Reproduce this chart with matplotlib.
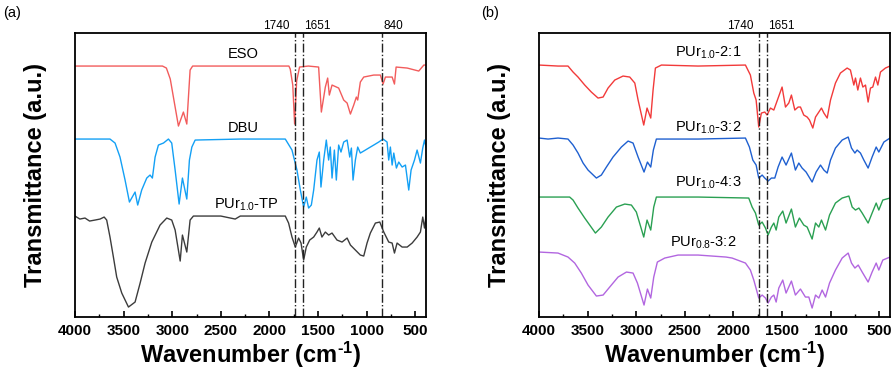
import matplotlib
matplotlib.use("Agg")
import matplotlib.pyplot as plt
from matplotlib.ticker import MultipleLocator

plt.rcParams['font.family'] = ['Liberation Sans', 'DejaVu Sans']
plt.rcParams['mathtext.fontset'] = 'custom'
plt.rcParams['mathtext.rm'] = 'Liberation Sans'
plt.rcParams['mathtext.it'] = 'Liberation Sans:italic'
plt.rcParams['mathtext.bf'] = 'Liberation Sans:bold'

# ---------------- panel (a) spectra ----------------
eso_wn = [4000, 3500, 3100, 3060, 3020, 2970, 2936, 2885, 2850, 2816, 2790, 2300, 1800,
          1786, 1760, 1741, 1720, 1690, 1600, 1494, 1466, 1425, 1401, 1384, 1356, 1288,
          1236, 1201, 1167, 1133, 1106, 1092, 1065, 1030, 927, 859, 831, 807, 738, 714,
          697, 583, 464, 412, 390]
eso_t = [251, 251, 251, 249, 238, 210, 191, 205, 193, 247, 251, 251, 251,
         248, 232, 193, 236, 250, 251, 250, 205, 230, 239, 222, 232, 229,
         217, 214, 203, 212, 220, 217, 235, 240, 242, 242, 233, 240, 240, 233,
         250, 249, 246, 252, 252]

dbu_wn = [4000, 3800, 3640, 3588, 3537, 3485, 3440, 3382, 3355, 3314, 3262, 3228, 3204,
          3176, 3142, 3090, 3039, 3005, 2970, 2929, 2895, 2850, 2823, 2798, 2764, 2300,
          1837, 1768, 1717, 1682, 1648, 1621, 1597, 1569, 1545, 1511, 1487, 1470, 1442,
          1415, 1391, 1374, 1356, 1332, 1312, 1288, 1264, 1236, 1201, 1174, 1157, 1140,
          1116, 1092, 1065, 1013, 979, 927, 876, 831, 790, 773, 756, 738, 721, 694, 670,
          635, 601, 567, 543, 508, 481, 447, 423, 405, 390]
dbu_t = [178, 178, 178, 174, 160, 137, 115, 125, 112, 127, 139, 142, 139,
         160, 172, 174, 178, 174, 147, 113, 139, 118, 157, 170, 177, 178,
         178, 167, 147, 127, 110, 120, 109, 112, 127, 157, 165, 130, 157,
         177, 157, 170, 139, 167, 137, 172, 165, 175, 177, 160, 169, 137,
         157, 170, 164, 167, 169, 172, 175, 178, 175, 157, 170, 152, 164, 149, 155,
         150, 152, 127, 147, 157, 167, 154, 169, 177, 170]

tp_wn = [4000, 3950, 3897, 3850, 3794, 3742, 3700, 3674, 3640, 3605, 3571, 3519, 3450,
         3382, 3330, 3279, 3210, 3125, 3056, 3005, 2970, 2918, 2895, 2850, 2816, 2782,
         2500, 2352, 2300, 1837, 1803, 1768, 1734, 1700, 1675, 1648, 1621, 1586, 1545,
         1511, 1487, 1460, 1425, 1391, 1356, 1305, 1253, 1201, 1167, 1116, 1065, 1030,
         996, 962, 910, 865, 824, 773, 738, 714, 687, 635, 583, 532, 481, 447, 423,
         405, 390]
tp_t = [101, 98, 99, 96, 97, 98, 100, 97, 80, 60, 40, 24, 10,
        15, 34, 54, 75, 92, 99, 97, 87, 56, 82, 65, 97, 101,
        101, 98, 101, 101, 94, 80, 70, 79, 74, 57, 70, 77, 80,
        85, 89, 80, 85, 82, 84, 77, 75, 79, 72, 67, 62, 61,
        74, 84, 94, 95, 85, 75, 74, 64, 74, 70, 70, 74, 80, 85, 100,
        89, 101]

# ---------------- panel (b) spectra ----------------
r21_wn = [4000, 3805, 3702, 3650, 3599, 3530, 3462, 3393, 3341, 3290, 3221, 3136, 3067,
          3015, 2981, 2923, 2889, 2851, 2827, 2803, 2741, 2364, 1877, 1826, 1791, 1767,
          1740, 1713, 1678, 1654, 1620, 1585, 1500, 1465, 1431, 1404, 1369, 1335, 1311,
          1277, 1242, 1218, 1184, 1156, 1122, 1095, 1070, 1036, 1002, 951, 900, 831,
          797, 762, 745, 721, 694, 669, 642, 615, 591, 567, 539, 515, 488, 437, 390]
r21_t = [252, 251, 251, 245, 240, 232, 225, 219, 220, 229, 237, 241, 240,
         234, 217, 192, 209, 199, 227, 249, 252, 251, 252, 242, 224, 217,
         190, 204, 205, 202, 209, 207, 230, 210, 214, 222, 207, 210, 210,
         202, 200, 197, 189, 200, 205, 209, 204, 199, 217, 234, 244, 249,
         247, 232, 239, 227, 239, 230, 232, 215, 229, 230, 240, 232, 245, 249, 251]

b32_wn = [4000, 3907, 3805, 3702, 3650, 3599, 3547, 3496, 3410, 3359, 3307, 3239, 3153,
          3084, 3033, 2981, 2920, 2885, 2851, 2824, 2793, 2364, 1877, 1836, 1801, 1767,
          1740, 1705, 1678, 1644, 1610, 1575, 1541, 1500, 1459, 1404, 1363, 1328, 1294,
          1253, 1191, 1150, 1105, 1070, 1036, 1002, 951, 882, 820, 786, 751, 728, 694,
          659, 615, 574, 532, 505, 453, 390]
b32_t = [179, 178, 179, 178, 172, 164, 154, 147, 139, 142, 150, 160, 170,
         176, 174, 160, 145, 155, 150, 167, 178, 178, 179, 170, 157, 152,
         139, 142, 139, 136, 139, 139, 150, 160, 152, 164, 147, 154, 149,
         145, 135, 145, 152, 147, 144, 157, 169, 177, 180, 169, 164, 167, 164,
         157, 149, 160, 170, 165, 175, 179]

g43_wn = [4000, 3800, 3685, 3650, 3599, 3530, 3420, 3359, 3290, 3204, 3118, 3050, 2999,
          2923, 2889, 2851, 2820, 2793, 2364, 1843, 1808, 1774, 1740, 1705, 1671, 1644,
          1610, 1585, 1561, 1534, 1493, 1459, 1404, 1363, 1322, 1277, 1242, 1191, 1156,
          1122, 1095, 1053, 1012, 951, 882, 813, 779, 745, 710, 676, 615, 574, 532, 505,
          464, 390]
g43_t = [120, 120, 120, 117, 109, 99, 84, 90, 100, 110, 113, 112, 105,
         80, 97, 87, 110, 120, 120, 119, 110, 104, 92, 95, 89, 82,
         90, 94, 87, 100, 106, 94, 108, 90, 99, 92, 90, 78, 94,
         90, 97, 87, 102, 114, 119, 121, 110, 107, 109, 104, 94, 104, 114, 107,
         117, 119]

p32_wn = [4000, 3805, 3702, 3633, 3565, 3496, 3410, 3341, 3273, 3187, 3101, 3033, 2988,
          2920, 2885, 2851, 2820, 2783, 2707, 2570, 2364, 2077, 2014, 1877, 1826, 1791,
          1740, 1705, 1671, 1644, 1610, 1585, 1561, 1534, 1493, 1459, 1404, 1363, 1311,
          1260, 1225, 1191, 1156, 1122, 1088, 1053, 1012, 951, 882, 820, 786, 751, 717,
          676, 615, 574, 532, 505, 464, 390]
p32_t = [65, 64, 60, 54, 44, 32, 21, 22, 30, 40, 45, 44, 34,
         12, 28, 19, 40, 55, 59, 62, 62, 60, 59, 54, 47, 37,
         19, 22, 19, 14, 20, 22, 15, 29, 37, 24, 36, 22, 28,
         20, 20, 9, 22, 19, 27, 20, 34, 47, 59, 64, 54, 49, 52,
         45, 35, 45, 54, 47, 57, 60]

ticks = [4000, 3500, 3000, 2500, 2000, 1500, 1000, 500]
marks_a = [1740, 1651, 840]
marks_b = [1740, 1651]

fig = plt.figure(figsize=(8.96, 3.73), dpi=100)
ax1 = fig.add_axes([0.0837, 0.150, 0.3917, 0.7614])
ax2 = fig.add_axes([0.6016, 0.150, 0.3917, 0.7614])

ax1.plot(eso_wn, eso_t, color='#f25c5c', lw=1.0)
ax1.plot(dbu_wn, dbu_t, color='#13a0f5', lw=1.0)
ax1.plot(tp_wn, tp_t, color='#3c3c3c', lw=1.0)
ax1.text(2270, 263, 'ESO', ha='center', va='center', fontsize=10.5)
ax1.text(2270, 189, 'DBU', ha='center', va='center', fontsize=10.5)
ax1.text(2232, 112, 'PUr$_{1.0}$-TP', ha='center', va='center', fontsize=10.5)

ax2.plot(r21_wn, r21_t, color='#f23a3a', lw=1.0)
ax2.plot(b32_wn, b32_t, color='#1f60d0', lw=1.0)
ax2.plot(g43_wn, g43_t, color='#2aa052', lw=1.0)
ax2.plot(p32_wn, p32_t, color='#b266e0', lw=1.0)
ax2.text(2258, 264, 'PUr$_{1.0}$-2:1', ha='center', va='center', fontsize=10.5)
ax2.text(2258, 189, 'PUr$_{1.0}$-3:2', ha='center', va='center', fontsize=10.5)
ax2.text(2258, 134, 'PUr$_{1.0}$-4:3', ha='center', va='center', fontsize=10.5)
ax2.text(2315, 74, 'PUr$_{0.8}$-3:2', ha='center', va='center', fontsize=10.5)

for ax, marks in [(ax1, marks_a), (ax2, marks_b)]:
    for m in marks:
        ax.axvline(m, color='#222222', lw=1.0, ls='-.')
        if m == 1740:
            ax.text(m + 50, 291, str(m), ha='right', va='center', fontsize=8.5)
        else:
            ax.text(m - 10, 291, str(m), ha='left', va='center', fontsize=8.5)
    ax.set_xlim(4000, 390)
    ax.set_ylim(0, 284)
    ax.set_xticks(ticks)
    ax.set_xticklabels([str(t) for t in ticks], fontweight='bold', fontsize=11)
    ax.xaxis.set_minor_locator(MultipleLocator(250))
    ax.tick_params(axis='x', which='major', direction='in', length=4, width=1.2, pad=5, top=False)
    ax.tick_params(axis='x', which='minor', direction='in', length=2.5, width=1.0, top=False)
    ax.set_yticks([])
    for s in ax.spines.values():
        s.set_linewidth(1.3)
    ax.set_xlabel('Wavenumber (cm$^{\\mathbf{\u20101}}$)', fontsize=17, fontweight='bold', labelpad=1)
    ax.set_ylabel('Transmittance (a.u.)', fontsize=17, fontweight='bold', labelpad=20)

fig.text(0.004, 0.965, '(a)', fontsize=10.5, va='center')
fig.text(0.537, 0.965, '(b)', fontsize=10.5, va='center')

fig.savefig('out.png', dpi=100)
